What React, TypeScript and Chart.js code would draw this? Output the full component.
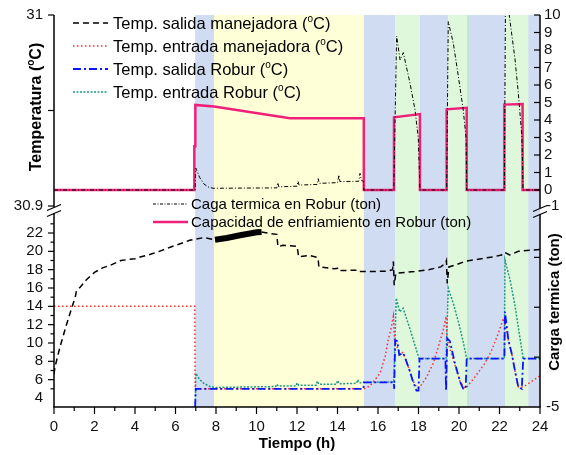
import React, { useEffect, useRef } from 'react';
import { Chart, registerables } from 'chart.js';

Chart.register(...registerables);

type P = [number, number];

// ---------- DATA (hours, value) ----------
const salidaManejadora: P[] = [
  [0, 6.6], [0.05, 7.4], [0.3, 9.6], [0.63, 12.1], [0.87, 13.8], [1.05, 15.0], [1.1, 15.6], [1.3, 16.1],
  [1.6, 16.9], [2.0, 17.7], [2.4, 18.2], [2.8, 18.5], [3.3, 19.0], [4.0, 19.2], [4.3, 19.4], [4.8, 19.7],
  [5.2, 20.0], [5.8, 20.5], [6.2, 20.8], [6.7, 21.2], [7.4, 21.5], [7.95, 21.27], [8.53, 21.45], [9.19, 21.75],
  [10.01, 22.07], [10.25, 22.1], [10.67, 21.95], [11.0, 21.85], [11.03, 21.2], [11.06, 20.5], [11.3, 20.65],
  [12.0, 20.55], [12.05, 19.9], [12.08, 19.4], [12.6, 19.55], [13.0, 19.35], [13.05, 19.05], [13.08, 18.3],
  [13.85, 18.1], [14.0, 18.15], [14.03, 17.9], [15.0, 17.95], [15.05, 17.8], [15.9, 17.8], [16.5, 17.85],
  [16.72, 18.0], [16.76, 18.9], [16.8, 16.3], [16.88, 17.6], [17.8, 17.8], [18.5, 18.0], [19.1, 18.3],
  [19.33, 18.7], [19.38, 19.0], [19.42, 16.5], [19.5, 18.3], [19.8, 18.5], [20.3, 18.9], [21.1, 19.2],
  [21.7, 19.4], [22.1, 19.6], [22.24, 19.9], [22.5, 19.6], [22.93, 20.0], [23.34, 20.1], [24, 20.2],
];
// dense oscillation period of the salida manejadora signal (drawn as a solid thick trace)
const salidaManejadoraOscilacion: [number, number] = [7.95, 10.25];

const entradaManejadora: P[] = [
  [0, 14.0], [6.95, 14.0], [6.97, 5.0], [15.3, 5.0], [15.6, 5.3], [16.1, 6.7], [16.35, 8.5], [16.5, 10.3],
  [16.67, 11.8], [16.76, 12.9], [16.82, 10.3], [17.0, 9.2], [17.25, 8.9], [17.5, 7.4], [17.7, 6.0],
  [17.92, 5.1], [18.07, 5.2], [18.4, 6.3], [18.73, 7.8], [18.98, 9.6], [19.22, 11.4], [19.36, 12.9],
  [19.42, 10.3], [19.8, 7.6], [20.05, 5.8], [20.3, 5.05], [20.38, 5.2], [20.79, 6.3], [21.28, 7.8],
  [21.61, 9.2], [21.94, 11.05], [22.19, 12.7], [22.27, 12.0], [22.44, 10.3], [22.6, 8.9], [22.77, 6.9],
  [22.93, 5.2], [23.17, 5.2], [23.92, 6.3], [24, 6.4],
];

const salidaRobur: P[] = [
  [6.97, 3.0], [7.0, 5.0], [15.28, 5.0], [15.3, 5.7], [16.78, 5.7], [16.8, 5.0], [16.85, 10.3], [16.95, 10.2],
  [17.05, 8.7], [17.25, 8.9], [17.5, 7.4], [17.7, 6.0], [17.9, 4.8], [18.0, 4.8], [18.05, 8.3], [19.33, 8.3],
  [19.36, 4.8], [19.42, 10.5], [19.55, 10.2], [19.8, 7.8], [20.05, 5.8], [20.2, 5.05], [20.33, 5.0],
  [20.38, 8.3], [22.24, 8.3], [22.27, 13.4], [22.44, 10.3], [22.6, 8.9], [22.77, 6.9], [22.93, 5.2],
  [23.1, 5.0], [23.17, 8.3], [24, 8.3],
];

const entradaRobur: P[] = [
  [6.97, 3.0], [7.0, 6.7], [7.2, 6.0], [7.4, 5.6], [7.7, 5.25], [8.0, 5.15], [10.95, 5.25], [11.0, 5.5],
  [11.08, 5.3], [11.95, 5.3], [12.0, 5.65], [12.08, 5.4], [12.95, 5.4], [13.0, 5.85], [13.08, 5.5],
  [13.95, 5.5], [14.0, 5.9], [14.08, 5.55], [14.95, 5.6], [15.0, 6.0], [15.08, 5.65], [15.3, 5.7],
  [16.78, 5.75], [16.9, 14.9], [17.07, 13.4], [17.24, 13.8], [17.54, 11.8], [17.79, 10.0], [18.03, 8.3],
  [19.36, 8.3], [19.47, 16.0], [19.72, 14.3], [19.97, 12.3], [20.2, 10.2], [20.38, 8.3], [22.24, 8.3],
  [22.27, 19.05], [22.52, 16.9], [22.77, 14.0], [23.0, 10.7], [23.17, 8.3], [24, 8.3],
];

const cargaTermica: P[] = [
  [0, 0], [6.97, 0], [7.0, 1.25], [7.2, 0.7], [7.4, 0.35], [7.6, 0.18], [7.85, 0.1], [11.0, 0.12],
  [11.05, 0.42], [11.1, 0.18], [12.0, 0.22], [12.05, 0.5], [12.1, 0.28], [13.0, 0.32], [13.05, 0.65],
  [13.1, 0.38], [14.0, 0.42], [14.07, 0.86], [14.12, 0.48], [15.05, 0.5], [15.11, 0.95], [15.18, 0.55],
  [15.28, 0.5], [15.3, 0], [16.78, 0], [16.92, 8.8], [17.09, 7.43], [17.25, 7.85], [17.58, 6.1],
  [17.83, 4.57], [17.99, 2.95], [18.07, 0], [19.39, 0], [19.47, 9.62], [19.72, 8.38], [19.97, 6.48],
  [20.21, 4.57], [20.35, 2.95], [20.38, 0], [22.24, 0], [22.3, 11.6], [22.77, 7.43], [22.93, 5.52],
  [23.1, 3.14], [23.14, 1.52], [23.16, 0], [24, 0],
];

const capacidadEnfriamiento: P[] = [
  [0, 0], [6.93, 0], [6.93, 2.5], [6.98, 2.5], [6.98, 4.86], [7.9, 4.77], [11.65, 4.1], [15.3, 4.1],
  [15.3, 0], [16.79, 0], [16.79, 4.15], [18.07, 4.34], [18.07, 0], [19.39, 0], [19.39, 4.61],
  [20.38, 4.7], [20.38, 0], [22.24, 0], [22.24, 4.88], [23.14, 4.91], [23.14, 0], [24, 0],
];

// operating periods (background bands)
const bandEdges = [6.97, 7.9, 15.3, 16.84, 18.07, 19.47, 20.4, 20.5, 22.27, 23.42, 24];
const bandTypes = ['blue', 'yellow', 'blue', 'green', 'blue', 'green', 'mix', 'blue', 'green', 'blue'];

// tick labels
const xTicks = [0, 2, 4, 6, 8, 10, 12, 14, 16, 18, 20, 22, 24];
const tempTicksBottom = [4, 6, 8, 10, 12, 14, 16, 18, 20, 22];
const tempTicksTop = [30.9, 30.95, 31];
const tempTickLabelsTop = ['30.9', '', '31'];
const cargaTicksTop = [0, 1, 2, 3, 4, 5, 6, 7, 8, 9, 10];
const cargaTicksBottom = [-5, -4, -3, -2, -1];
const cargaTickLabelsBottom = ['-5', '', '', '', '-1'];

const legendTemp = ['Temp. salida manejadora', 'Temp. entrada manejadora', 'Temp. salida Robur', 'Temp. entrada Robur'];
const legendCarga = ['Caga termica en Robur (ton)', 'Capacidad de enfriamiento en Robur (ton)'];

// ---------- STYLE / LAYOUT ----------
const FONT = '"Liberation Sans", Arial, Helvetica, sans-serif';
const W = 566, H = 455;
const CA = { left: 54, top: 15, right: 540, bottom: 407 };
const caH = CA.bottom - CA.top;
// bottom temperature panel: 4 at y=398, 22 at y=233
const tPx = (398 - 233) / 18;
const yTmin = 4 - (CA.bottom - 398) / tPx;
const yTmax = yTmin + caH / tPx;
// carga termica (top): 0 at y=190, 10 at y=15
const cPx = 17.5;
const yCmax = 10;
const yCmin = 10 - caH / cPx;
// top-left broken range: 31 at 15, 30.9 at 206
const tlPx = (206 - 15) / 0.1;
const yTLmax = 31;
const yTLmin = 31 - caH / tlPx;
// bottom-right broken range: -1 at 207.5, -5 at 407
const cbPx = (407 - 207.5) / 4;
const yCBmin = -5;
const yCBmax = -5 + caH / cbPx;

const COLORS = {
  blue: '#cfdcf1', yellow: '#ffffd7', green: '#dff8dc', mix: '#c2e3da',
  black: '#000000', red: '#ff2b2b', robur: '#0a14ff', teal: '#1f9a85', pink: '#f0207a',
};

const pts = (a: P[]) => a.map(([x, y]) => ({ x, y }));

type Part = [string, boolean];
function drawRich(ctx: CanvasRenderingContext2D, parts: Part[], x: number, yc: number, size: number, weight: string, align: 'left' | 'center') {
  const widths = parts.map(([t, sup]) => {
    ctx.font = `${weight} ${sup ? Math.round(size * 0.62) : size}px ${FONT}`;
    return ctx.measureText(t).width;
  });
  const total = widths.reduce((s, v) => s + v, 0);
  let cx = align === 'center' ? x - total / 2 : x;
  const base = yc + size * 0.36;
  ctx.textBaseline = 'alphabetic';
  ctx.textAlign = 'left';
  parts.forEach(([t, sup], i) => {
    ctx.font = `${weight} ${sup ? Math.round(size * 0.62) : size}px ${FONT}`;
    ctx.fillText(t, cx, sup ? base - size * 0.42 : base);
    cx += widths[i];
  });
  return total;
}

function seg(ctx: CanvasRenderingContext2D, x0: number, y0: number, x1: number, y1: number) {
  ctx.beginPath();
  ctx.moveTo(x0, y0);
  ctx.lineTo(x1, y1);
  ctx.stroke();
}

const bandsPlugin = {
  id: 'bands',
  beforeDatasetsDraw(chart: any) {
    const { ctx, chartArea: ca } = chart;
    const sx = chart.scales.x;
    ctx.save();
    for (let i = 0; i < bandTypes.length; i++) {
      const x0 = sx.getPixelForValue(bandEdges[i]);
      const x1 = sx.getPixelForValue(bandEdges[i + 1]);
      ctx.fillStyle = (COLORS as any)[bandTypes[i]];
      ctx.fillRect(x0, ca.top, x1 - x0, ca.bottom - ca.top);
    }
    ctx.restore();
  },
};

const axesPlugin = {
  id: 'axesCustom',
  afterDraw(chart: any) {
    const { ctx, chartArea: ca } = chart;
    const sx = chart.scales.x, yT = chart.scales.yT, yC = chart.scales.yC, yTL = chart.scales.yTL, yCB = chart.scales.yCB;
    ctx.save();
    ctx.strokeStyle = '#000';
    ctx.fillStyle = '#111';
    ctx.lineWidth = 1.5;
    ctx.setLineDash([]);
    const L = ca.left, R = ca.right, B = ca.bottom, T = ca.top;
    // axis lines with breaks
    seg(ctx, L - 0.75, B, R + 0.75, B);
    seg(ctx, L, T, L, 207);
    seg(ctx, L, 213, L, B);
    seg(ctx, R, T, R, 208);
    seg(ctx, R, 214, R, B);
    // break marks
    ctx.lineWidth = 1.3;
    seg(ctx, L - 7, 210.5, L + 7, 204.5);
    seg(ctx, L - 7, 216.5, L + 7, 210.5);
    seg(ctx, R - 7, 211.5, R + 7, 205.5);
    seg(ctx, R - 7, 217.5, R + 7, 211.5);
    ctx.lineWidth = 1.2;
    // x ticks
    for (let h = 0; h <= 24; h++) {
      const px = sx.getPixelForValue(h);
      seg(ctx, px, B, px, B + (h % 2 === 0 ? 7 : 4));
    }
    ctx.font = `15px ${FONT}`;
    ctx.textAlign = 'center';
    ctx.textBaseline = 'middle';
    xTicks.forEach((h) => ctx.fillText(String(h), sx.getPixelForValue(h), 427));
    // left bottom ticks
    for (let v = 5; v <= 23; v++) {
      const py = yT.getPixelForValue(v);
      seg(ctx, L, py, L - (v % 2 === 0 ? 6 : 3.5), py);
    }
    ctx.textAlign = 'right';
    tempTicksBottom.forEach((v) => ctx.fillText(String(v), 43, yT.getPixelForValue(v)));
    // left top ticks
    tempTicksTop.forEach((v, i) => {
      const py = yTL.getPixelForValue(v);
      seg(ctx, L, py, L - 6, py);
      if (tempTickLabelsTop[i]) ctx.fillText(tempTickLabelsTop[i], 43, py);
    });
    // right top ticks
    ctx.textAlign = 'left';
    cargaTicksTop.forEach((v) => {
      const py = yC.getPixelForValue(v);
      seg(ctx, R, py, R - 6, py);
      ctx.fillText(String(v), 544, py);
    });
    cargaTicksBottom.forEach((v, i) => {
      const py = yCB.getPixelForValue(v);
      if (v > -5 && v < -1) seg(ctx, R, py, R - 6, py);
      if (cargaTickLabelsBottom[i]) ctx.fillText(cargaTickLabelsBottom[i], 546, v === -1 ? 206 : py);
    });
    // axis titles
    ctx.fillStyle = '#000';
    ctx.save();
    ctx.translate(35, 107);
    ctx.rotate(-Math.PI / 2);
    drawRich(ctx, [['Temperatura (', false], ['o', true], ['C)', false]], 0, 0, 16, 'bold', 'center');
    ctx.restore();
    ctx.save();
    ctx.translate(554, 302);
    ctx.rotate(-Math.PI / 2);
    drawRich(ctx, [['Carga termica (ton)', false]], 0, 0, 15, 'bold', 'center');
    ctx.restore();
    drawRich(ctx, [['Tiempo (h)', false]], 297, 443, 15, 'bold', 'center');

    // legend 1 (temperatures)
    const l1 = [
      { color: COLORS.black, dash: [6, 4], w: 1.5 },
      { color: COLORS.red, dash: [1.5, 2.5], w: 1.5 },
      { color: COLORS.robur, dash: [8, 3, 2, 3], w: 1.8 },
      { color: COLORS.teal, dash: [2, 1.5], w: 1.5 },
    ];
    const rows1 = [23, 46, 69, 92];
    legendTemp.forEach((label, i) => {
      ctx.strokeStyle = l1[i].color;
      ctx.lineWidth = l1[i].w;
      ctx.setLineDash(l1[i].dash);
      seg(ctx, 73, rows1[i], 108, rows1[i]);
      ctx.setLineDash([]);
      ctx.fillStyle = '#000';
      drawRich(ctx, [[label + ' (', false], ['o', true], ['C)', false]], 113, rows1[i], 16.5, 'normal', 'left');
    });
    // legend 2 (carga)
    const l2 = [
      { color: COLORS.black, dash: [3, 1.5, 1, 1.5], w: 1 },
      { color: COLORS.pink, dash: [], w: 2.5 },
    ];
    const rows2 = [204, 222];
    legendCarga.forEach((label, i) => {
      ctx.strokeStyle = l2[i].color;
      ctx.lineWidth = l2[i].w;
      ctx.setLineDash(l2[i].dash);
      seg(ctx, 153, rows2[i], 188, rows2[i]);
      ctx.setLineDash([]);
      ctx.fillStyle = '#000';
      drawRich(ctx, [[label, false]], 191, rows2[i], 15, 'normal', 'left');
    });
    ctx.restore();
  },
};

export default function App() {
  const ref = useRef<HTMLCanvasElement | null>(null);
  useEffect(() => {
    document.body.style.margin = '0';
    const inOsc = (c: any) =>
      c.p0.parsed.x >= salidaManejadoraOscilacion[0] && c.p1.parsed.x <= salidaManejadoraOscilacion[1];
    const chart = new Chart(ref.current as HTMLCanvasElement, {
      type: 'line',
      data: {
        datasets: [
          {
            label: 'Temp. salida manejadora',
            data: pts(salidaManejadora),
            yAxisID: 'yT',
            borderColor: COLORS.black,
            borderWidth: 1.5,
            borderDash: [6, 4],
            segment: {
              borderWidth: (c: any) => (inOsc(c) ? 6 : undefined),
              borderDash: (c: any) => (inOsc(c) ? [] : undefined),
            },
          } as any,
          {
            label: 'Caga termica en Robur (ton)',
            data: pts(cargaTermica),
            yAxisID: 'yC',
            borderColor: COLORS.black,
            borderWidth: 1,
            borderDash: [4, 2, 1, 2],
          },
          {
            label: 'Capacidad de enfriamiento en Robur (ton)',
            data: pts(capacidadEnfriamiento),
            yAxisID: 'yC',
            borderColor: COLORS.pink,
            borderWidth: 2.5,
          },
          {
            label: 'Temp. salida Robur',
            data: pts(salidaRobur),
            yAxisID: 'yT',
            borderColor: COLORS.robur,
            borderWidth: 1.8,
            borderDash: [8, 3, 2, 3],
          },
          {
            label: 'Temp. entrada manejadora',
            data: pts(entradaManejadora),
            yAxisID: 'yT',
            borderColor: COLORS.red,
            borderWidth: 1.5,
            borderDash: [1.5, 2.5],
          },
          {
            label: 'Temp. entrada Robur',
            data: pts(entradaRobur),
            yAxisID: 'yT',
            borderColor: COLORS.teal,
            borderWidth: 1.5,
            borderDash: [2, 1.5],
          },
        ],
      },
      options: {
        responsive: false,
        animation: false,
        devicePixelRatio: 1,
        layout: { padding: { left: CA.left, right: W - CA.right, top: CA.top, bottom: H - CA.bottom } },
        elements: { point: { radius: 0 }, line: { tension: 0 } },
        plugins: { legend: { display: false }, tooltip: { enabled: false }, title: { display: false } },
        scales: {
          x: { type: 'linear', min: 0, max: 24, display: false },
          yT: { type: 'linear', axis: 'y', position: 'left', min: yTmin, max: yTmax, display: false },
          yTL: { type: 'linear', axis: 'y', position: 'left', min: yTLmin, max: yTLmax, display: false },
          yC: { type: 'linear', axis: 'y', position: 'right', min: yCmin, max: yCmax, display: false },
          yCB: { type: 'linear', axis: 'y', position: 'right', min: yCBmin, max: yCBmax, display: false },
        },
      } as any,
      plugins: [bandsPlugin, axesPlugin],
    });
    return () => chart.destroy();
  }, []);
  return (
    <div style={{ width: W, height: H, background: '#fff' }}>
      <canvas ref={ref} width={W} height={H} style={{ display: 'block', width: W, height: H }} />
    </div>
  );
}
